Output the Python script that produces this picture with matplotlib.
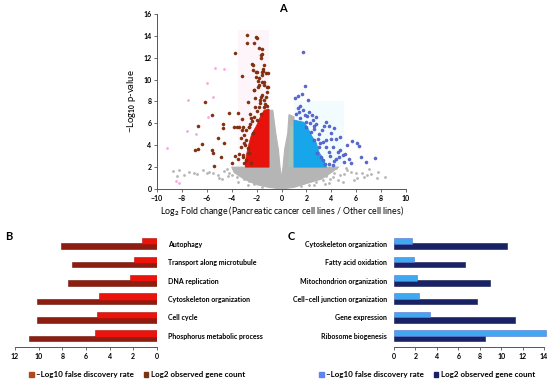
import matplotlib
matplotlib.use("Agg")
import matplotlib.pyplot as plt
from matplotlib.patches import Patch

plt.rcParams['font.family'] = ['Lato', 'DejaVu Sans']
plt.rcParams['font.weight'] = 'bold'
plt.rcParams['mathtext.fontset'] = 'custom'
plt.rcParams['mathtext.rm'] = 'Lato:bold'
plt.rcParams['mathtext.bf'] = 'Lato:bold'
plt.rcParams['mathtext.default'] = 'bf'

# ---- panel A : volcano plot (dense cores read as outlines, sparse points read one by one)
gray_core_x = [-4.0, -1.0, -1.0, -0.7, -0.45, -0.25, -0.12, 0.0, 0.12, 0.25, 0.5, 0.6, 1.0,
               1.0, 4.6, 4.0, 3.2, 2.0, 1.0, 0.0, -1.0, -2.0, -3.0, -3.8]
gray_core_y = [2.0, 2.0, 7.2, 7.2, 5.0, 3.6, 2.0, 1.0, 2.0, 3.6, 5.1, 6.8, 6.6,
               2.0, 2.0, 1.5, 0.9, 0.5, 0.15, 0.0, 0.15, 0.4, 0.9, 1.5]
green_core_x = [0.55, 1.0, 1.0, 0.7]
green_core_y = [2.0, 2.0, 5.8, 5.8]
red_core_x = [-2.9, -1.0, -1.0, -1.4, -1.7, -2.0, -2.4, -2.6, -2.8, -2.9]
red_core_y = [2.0, 2.0, 7.3, 7.2, 6.6, 5.8, 5.0, 4.2, 3.2, 2.5]
blue_core_x = [1.0, 3.6, 3.4, 3.0, 2.8, 2.4, 2.1, 1.8, 1.0]
blue_core_y = [2.0, 2.0, 2.6, 3.4, 4.2, 4.9, 5.6, 6.1, 6.3]

red_x = [-2.78, -2.03, -1.98, -2.81, -2.25, -3.72, -1.53, -1.58, -1.66, -2.38, -3.19, -2.28,
         -2.01, -1.45, -1.26, -1.79, -2.2, -1.85, -1.39, -2.73, -6.13, -4.2, -3.53, -5.6,
         -6.67, -4.69, -4.74, -3.8, -3.61, -3.4, -3.21, -3.19, -5.14, -3.0, -6.4, -4.6,
         -6.93, -6.67, -5.6, -5.49, -4.87, -3.72, -3.53, -3.94, -5.41, -3.0, -3.13, -3.27,
         -2.86, -2.65, -2.46, -2.12, -1.74, -1.58, -1.26, -1.39, -1.53, -1.18, -1.7, -2.0,
         -1.4, -1.9, -2.5, -1.2, -1.6, -2.4, -2.9, -3.4, -2.1, -1.3, -1.5,
         -1.79, -1.65, -2.33, -1.93, -1.53, -1.12, -2.06, -1.39, -1.79, -1.12, -1.65, -1.39,
         -2.19, -1.79, -1.2, -3.13, -2.86, -2.59, -2.33, -3.26, -3.0, -2.73, -2.59, -2.86,
         -2.46, -3.13, -1.93, -2.19, -2.5, -1.65]
red_y = [14.08, 13.87, 13.8, 13.38, 13.32, 12.47, 12.8, 12.35, 11.95, 11.4, 10.34, 10.88,
         10.73, 10.79, 10.58, 10.12, 9.05, 9.36, 9.51, 7.99, 7.93, 6.98, 6.92, 6.77,
         5.76, 5.95, 5.55, 5.64, 5.7, 5.7, 6.4, 5.4, 4.63, 4.94, 4.12, 4.18,
         3.57, 3.63, 3.57, 3.26, 2.96, 3.02, 2.71, 2.41, 2.1, 2.35, 2.96, 3.87,
         4.48, 5.7, 6.46, 7.53, 8.14, 8.6, 8.45, 7.53, 9.82, 9.36, 7.9, 7.1,
         11.3, 9.9, 5.9, 8.9, 10.4, 6.2, 4.0, 3.2, 8.3, 7.8, 11.0,
         12.86, 12.25, 11.33, 10.72, 10.72, 10.57, 10.27, 9.81, 9.5, 9.35, 8.44, 8.14,
         9.05, 7.52, 7.6, 5.69, 5.39, 5.69, 5.09, 4.63, 4.17, 3.72, 3.26, 2.65,
         2.35, 3.1, 6.31, 6.6, 6.9, 6.9]
blue_x = [1.69, 1.87, 1.63, 1.34, 1.07, 2.09, 1.29, 1.69, 2.22, 2.44, 2.76, 2.01, 3.61,
          3.78, 4.23, 3.96, 3.29, 4.69, 4.36, 5.3, 5.65, 6.1, 6.24, 4.1, 4.5, 4.9, 4.58,
          6.37, 7.52, 6.77, 5.57, 3.83, 4.15, 3.35, 3.16, 2.89, 3.03, 2.62, 2.36, 1.95,
          3.56, 3.83, 5.03, 1.2, 1.5, 2.6, 3.1, 4.4, 2.0, 1.4,
          2.3, 2.6, 3.0, 3.3, 3.6, 3.9, 4.2, 3.5, 2.9, 2.5, 1.9, 1.5, 2.8, 3.4, 4.0,
          4.7, 5.1, 5.4]
blue_y = [12.56, 9.42, 8.69, 8.5, 8.29, 8.14, 7.38, 7.23, 7.07, 6.77, 6.55, 6.68, 6.16,
          5.76, 5.55, 5.09, 5.4, 4.79, 4.54, 4.02, 4.42, 4.18, 3.93, 3.87, 3.41, 3.11, 2.96,
          2.9, 2.8, 2.5, 2.41, 2.29, 2.2, 2.65, 2.96, 3.26, 3.87, 4.48, 5.24, 5.7,
          4.48, 3.41, 2.5, 6.9, 6.5, 5.8, 4.2, 2.7, 6.1, 7.0,
          6.0, 5.5, 5.0, 4.3, 3.8, 3.0, 2.6, 2.3, 4.6, 6.3, 6.8, 7.6, 5.9, 5.8, 4.6,
          3.6, 3.2, 2.7]
gray_x = [-8.75, -8.22, -7.82, -7.42, -7.01, -6.75, -6.29, -5.81, -5.54, -5.14, -4.6, -4.2,
          -3.94, -4.4, -3.7, -3.3, -3.0, -2.6, -2.2, -3.6, -2.9, -5.0, -6.0, -8.4,
          5.17, 5.57, 5.97, 6.5, 6.83, 7.18, 7.71, 8.33, 7.63, 6.64, 4.5, 4.9, 3.83,
          4.2, 3.6, 4.4, 5.3, 3.9, 3.3, 2.8, 2.2, 4.7, 6.1, 7.0,
          -4.8, -4.3, -3.5, -2.7, -1.6, 1.6, 2.6, 3.5, 4.1, 5.0, 5.8]
gray_y = [1.68, 1.74, 1.28, 1.59, 1.43, 1.34, 1.74, 1.59, 1.43, 1.28, 1.68, 1.49,
          1.28, 1.85, 1.75, 1.5, 0.9, 0.7, 0.5, 1.1, 1.6, 1.0, 1.5, 1.2,
          1.89, 1.59, 1.43, 1.49, 1.28, 1.37, 1.59, 1.13, 0.98, 1.13, 0.82, 0.67, 0.58,
          1.5, 1.2, 1.9, 1.7, 0.9, 0.8, 0.6, 0.4, 1.3, 1.0, 1.8,
          0.9, 1.2, 0.6, 0.35, 0.2, 0.25, 0.35, 0.5, 1.1, 1.4, 0.8]
pink_x = [-5.35, -4.63, -6.0, -7.55, -5.5, -9.16, -8.5, -8.2, -7.6, -6.9, -5.9]
pink_y = [11.1, 10.95, 9.7, 8.14, 8.4, 3.78, 0.7, 0.55, 5.3, 5.0, 6.6]

# ---- panel B : terms enriched in down-regulated genes
b_terms = ['Phosphorus metabolic process', 'Cell cycle', 'Cytoskeleton organization',
           'DNA replication', 'Transport along microtubule', 'Autophagy']
b_fdr = [5.2, 5.1, 4.9, 2.3, 1.9, 1.3]
b_count = [10.8, 10.1, 10.1, 7.5, 7.2, 8.1]

# ---- panel C : terms enriched in up-regulated genes
c_terms = ['Ribosome biogenesis', 'Gene expression', 'Cell\u2013cell junction organization',
           'Mitochondrion organization', 'Fatty acid oxidation', 'Cytoskeleton organization']
c_fdr = [14.15, 3.4, 2.3, 2.1, 1.9, 1.65]
c_count = [8.45, 11.25, 7.7, 9.0, 6.6, 10.5]

legend_labels = ['\u2013Log10 false discovery rate', 'Log2 observed gene count']

fig = plt.figure(figsize=(5.5, 3.83), dpi=100)

# panel A
ax = fig.add_axes([0.2855, 0.5065, 0.4527, 0.457])
ax.fill([-3.5, -1, -1, -3.5], [2, 2, 14.5, 14.5], color='#fef5fa', lw=0, zorder=0)
ax.fill([1, 5, 5, 1], [2, 2, 8, 8], color='#f2fcfe', lw=0, zorder=0)
ax.fill(gray_core_x, gray_core_y, color='#b5b5b5', lw=0.8, ec='#b5b5b5', zorder=1)
ax.fill(green_core_x, green_core_y, color='#a9c3b8', lw=0, zorder=1)
ax.fill(red_core_x, red_core_y, color='#e8120c', lw=0.6, ec='#d0200f', zorder=2)
ax.fill(blue_core_x, blue_core_y, color='#17a6ea', lw=0.6, ec='#2a9be0', zorder=2)
ax.scatter(gray_x, gray_y, s=4, color='#b5b5b5', lw=0, zorder=1)
ax.scatter(pink_x, pink_y, s=4, color='#f7a6e4', lw=0, zorder=1)
ax.scatter(red_x, red_y, s=5, color='#8a3312', ec='#6b2508', lw=0.3, zorder=3)
ax.scatter(blue_x, blue_y, s=5, color='#5b6cd6', ec='#3f4fb8', lw=0.3, zorder=3)
ax.set_xlim(-10, 10)
ax.set_ylim(0, 16)
ax.set_xticks(range(-10, 11, 2))
ax.set_yticks(range(0, 17, 2))
for s in ['top', 'right']:
    ax.spines[s].set_visible(False)
for s in ['left', 'bottom']:
    ax.spines[s].set_color('#555555')
    ax.spines[s].set_linewidth(0.7)
ax.tick_params(labelsize=5, length=2, width=0.6, pad=2, color='#555555')
ax.set_xlabel('Log$_{2}$ Fold change (Pancreatic cancer cell lines / Other cell lines)',
              fontsize=6.3, labelpad=2)
ax.set_ylabel('\u2212Log$_{10}$ p-value', fontsize=6.8, labelpad=4)
fig.text(283 / 550, 1 - 9 / 383, 'A', fontsize=8, ha='center', va='center')

# panel B
axb = fig.add_axes([0.0273, 0.094, 0.258, 0.294])
yb = list(range(len(b_terms)))
axb.barh([v - 0.14 for v in yb], b_count, height=0.3, color='#8c1d10', ec='#6a150a', lw=0.4, zorder=2)
axb.barh([v + 0.13 for v in yb], b_fdr, height=0.34, color='#ea140d', ec='#b01008', lw=0.4, zorder=3)
axb.set_xlim(12, 0)
axb.set_ylim(-0.6, 5.5)
axb.set_xticks(range(0, 13, 2))
axb.set_yticks(yb)
axb.set_yticklabels(b_terms)
axb.yaxis.tick_right()
axb.tick_params(axis='y', length=0, pad=8, labelsize=5)
axb.tick_params(axis='x', length=2, width=0.6, pad=2, labelsize=5, color='#555555')
for s in ['top', 'right', 'left']:
    axb.spines[s].set_visible(False)
axb.spines['bottom'].set_color('#555555')
axb.spines['bottom'].set_linewidth(0.7)
fig.text(5 / 550, 1 - 237 / 383, 'B', fontsize=8, ha='left', va='center')
fig.legend(handles=[Patch(color='#b04a1c'), Patch(color='#7b3412')], labels=legend_labels,
           loc='center', bbox_to_anchor=(137 / 550, 1 - 375 / 383), ncol=2, frameon=False,
           fontsize=5.8, handlelength=0.6, handleheight=0.6, handletextpad=0.3,
           columnspacing=1.2)

# panel C
axc = fig.add_axes([0.7164, 0.094, 0.2727, 0.294])
yc = list(range(len(c_terms)))
axc.barh([v - 0.14 for v in yc], c_count, height=0.3, color='#1a2266', ec='#10174a', lw=0.4,
         zorder=2, clip_on=False)
axc.barh([v + 0.15 for v in yc], c_fdr, height=0.3, color='#3fa8f0', ec='#5a6fd0', lw=0.4,
         zorder=3, clip_on=False)
axc.set_xlim(0, 14)
axc.set_ylim(-0.6, 5.5)
axc.set_xticks(range(0, 15, 2))
axc.set_yticks(yc)
axc.set_yticklabels(c_terms)
axc.tick_params(axis='y', length=0, pad=5, labelsize=5)
axc.tick_params(axis='x', length=2, width=0.6, pad=2, labelsize=5, color='#555555')
for s in ['top', 'right', 'left']:
    axc.spines[s].set_visible(False)
axc.spines['bottom'].set_color('#555555')
axc.spines['bottom'].set_linewidth(0.7)
fig.text(288 / 550, 1 - 237 / 383, 'C', fontsize=8, ha='left', va='center')
fig.legend(handles=[Patch(color='#5f86ec'), Patch(color='#1b1f6b')], labels=legend_labels,
           loc='center', bbox_to_anchor=(427 / 550, 1 - 375 / 383), ncol=2, frameon=False,
           fontsize=5.8, handlelength=0.6, handleheight=0.6, handletextpad=0.3,
           columnspacing=1.2)

fig.savefig('out.png', dpi=100)
